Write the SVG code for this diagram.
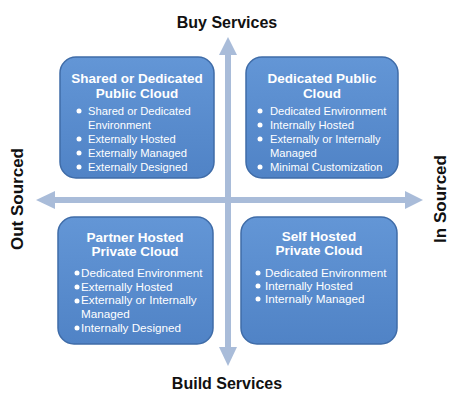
<svg xmlns="http://www.w3.org/2000/svg" width="458" height="407" viewBox="0 0 458 407">
<defs>
<linearGradient id="g" x1="0" y1="0" x2="0" y2="1">
<stop offset="0" stop-color="#6396d6"/>
<stop offset="1" stop-color="#5083c6"/>
</linearGradient>
</defs>
<style>
.box{fill:url(#g);stroke:#3f6ca8;stroke-width:1.5}
.t{font-family:"Liberation Sans",Arial,sans-serif;font-weight:bold;font-size:13.5px;fill:#fff;text-anchor:middle}
.b{font-family:"Liberation Sans",Arial,sans-serif;font-size:11.2px;fill:#fff}
.b2{font-family:"Liberation Sans",Arial,sans-serif;font-size:11.7px;fill:#fff}
.ax{font-family:"Liberation Sans",Arial,sans-serif;font-weight:bold;font-size:16px;fill:#111;text-anchor:middle}
.arr{fill:#a9bcd9}
</style>
<rect width="458" height="407" fill="#fff"/>
<g id="connectors">
<rect class="arr" x="225" y="54" width="6" height="294"/>
<polygon class="arr" points="228,37 237,55 219,55"/>
<polygon class="arr" points="228,366 237,347 219,347"/>
<rect class="arr" x="54" y="197" width="352" height="6"/>
<polygon class="arr" points="36,200 55,191 55,209"/>
<polygon class="arr" points="423,200 405,191 405,209"/>
</g>
<g id="shared-public">
<rect class="box" x="60" y="57" width="154" height="121" rx="16"/>
<text class="t" x="137" y="83">Shared or Dedicated</text>
<text class="t" x="137" y="98">Public Cloud</text>
<g fill="#fff"><circle cx="79" cy="111" r="2.5"/><circle cx="79" cy="139" r="2.5"/><circle cx="79" cy="153" r="2.5"/><circle cx="79" cy="167" r="2.5"/></g>
<text class="b" x="88" y="115">Shared or Dedicated</text>
<text class="b" x="88" y="128.5">Environment</text>
<text class="b" x="88" y="142.5">Externally Hosted</text>
<text class="b" x="88" y="156.5">Externally Managed</text>
<text class="b" x="88" y="170.5">Externally Designed</text>
</g>
<g id="dedicated-public">
<rect class="box" x="246" y="57" width="152" height="121" rx="16"/>
<text class="t" x="322" y="83">Dedicated Public</text>
<text class="t" x="322" y="98">Cloud</text>
<g fill="#fff"><circle cx="260" cy="111" r="2.5"/><circle cx="260" cy="125" r="2.5"/><circle cx="260" cy="139" r="2.5"/><circle cx="260" cy="167" r="2.5"/></g>
<text class="b" x="270" y="115">Dedicated Environment</text>
<text class="b" x="270" y="128.5">Internally Hosted</text>
<text class="b" x="270" y="142.5">Externally or Internally</text>
<text class="b" x="270" y="156.5">Managed</text>
<text class="b" x="270" y="170.5">Minimal Customization</text>
</g>
<g id="partner-private">
<rect class="box" x="58" y="217" width="155" height="127" rx="16"/>
<text class="t" x="135" y="241.5">Partner Hosted</text>
<text class="t" x="135" y="256">Private Cloud</text>
<g fill="#fff"><circle cx="77" cy="273" r="2.5"/><circle cx="77" cy="287" r="2.5"/><circle cx="77" cy="301" r="2.5"/><circle cx="77" cy="328" r="2.5"/></g>
<text class="b2" x="81" y="277">Dedicated Environment</text>
<text class="b2" x="81" y="290.5">Externally Hosted</text>
<text class="b2" x="81" y="304">Externally or Internally</text>
<text class="b2" x="81" y="317.5">Managed</text>
<text class="b2" x="81" y="331.5">Internally Designed</text>
</g>
<g id="self-private">
<rect class="box" x="241" y="217" width="156" height="127" rx="16"/>
<text class="t" x="319" y="240.5">Self Hosted</text>
<text class="t" x="319" y="255">Private Cloud</text>
<g fill="#fff"><circle cx="258" cy="273" r="2.5"/><circle cx="258" cy="286" r="2.5"/><circle cx="258" cy="299" r="2.5"/></g>
<text class="b2" x="265" y="277">Dedicated Environment</text>
<text class="b2" x="265" y="290">Internally Hosted</text>
<text class="b2" x="265" y="303">Internally Managed</text>
</g>
<g id="labels">
<text class="ax" x="227" y="28">Buy Services</text>
<text class="ax" x="227" y="389">Build Services</text>
<text class="ax" style="font-size:17px" transform="translate(23,199) rotate(-90)">Out Sourced</text>
<text class="ax" style="font-size:17px" transform="translate(446,199) rotate(-90)">In Sourced</text>
</g>
</svg>
